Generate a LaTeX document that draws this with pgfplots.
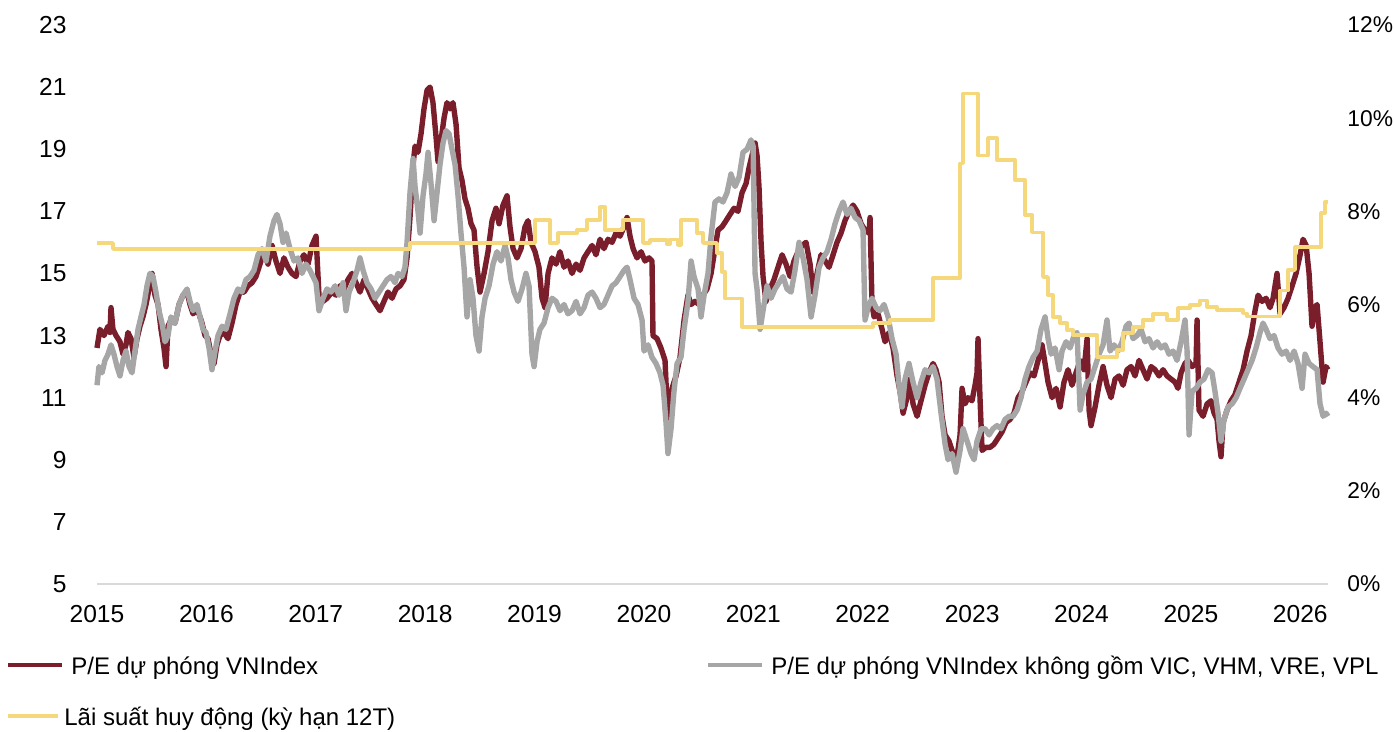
\documentclass[border=0pt]{standalone}
\usepackage{fontspec}
\setmainfont{Liberation Sans}
\usepackage{pgfplots}
\pgfplotsset{compat=1.18}

\definecolor{pered}{HTML}{7B1E2C}
\definecolor{pegray}{HTML}{A6A6A6}
\definecolor{rateyel}{HTML}{F5D87C}
\definecolor{axgray}{HTML}{D9D9D9}

\begin{document}
\begin{tikzpicture}[font=\fontsize{12}{15}\selectfont]
% P/E axis (left)
\begin{axis}[
    at={(0,0)}, anchor=south west,
    scale only axis, width=615.5pt, height=279.5pt,
    xmin=2015, xmax=2026.252, ymin=5, ymax=23,
    axis x line*=bottom, axis y line*=left,
    x axis line style={-, draw=axgray, line width=1pt},
    y axis line style={draw=none},
    major tick length=0pt, tick style={draw=none},
    xtick={2015,...,2026},
    xticklabels={2015,2016,2017,2018,2019,2020,2021,2022,2023,2024,2025,2026},
    ytick={5,7,...,23},
    yticklabels={5,7,9,11,13,15,17,19,21,23},
    tick label style={font=\fontsize{12.3}{15}\selectfont},
    xticklabel style={anchor=north, inner sep=0pt, yshift=-10.5pt},
    yticklabel style={anchor=east, inner sep=0pt, xshift=-15pt},
    clip=false,
]
\addplot[pered, line width=2.7pt, line join=round] coordinates {
(2015.000,12.6) (2015.027,13.2) (2015.064,13.0) (2015.101,13.3) (2015.119,13.1) (2015.128,13.9)
(2015.146,13.2) (2015.174,13.0) (2015.210,12.8) (2015.238,12.4) (2015.265,12.7) (2015.283,13.1)
(2015.311,12.9) (2015.338,12.3) (2015.366,12.9) (2015.393,13.3) (2015.420,13.6) (2015.448,14.0)
(2015.475,14.5) (2015.503,15.0) (2015.530,14.3) (2015.558,14.0) (2015.585,13.2) (2015.612,12.6)
(2015.631,12.0) (2015.649,13.3) (2015.676,13.5) (2015.713,13.4) (2015.750,14.0) (2015.786,14.3)
(2015.823,14.4) (2015.850,14.0) (2015.878,13.7) (2015.905,13.8) (2015.932,13.7) (2015.960,13.4)
(2015.987,13.0) (2016.015,12.9) (2016.042,12.4) (2016.070,12.1) (2016.097,12.7) (2016.124,13.0)
(2016.161,13.1) (2016.197,12.9) (2016.234,13.4) (2016.271,14.0) (2016.307,14.4) (2016.344,14.4)
(2016.380,14.6) (2016.417,14.7) (2016.453,14.9) (2016.490,15.3) (2016.527,15.7) (2016.563,15.3)
(2016.600,15.9) (2016.636,15.4) (2016.673,15.0) (2016.709,15.5) (2016.746,15.2) (2016.782,15.0)
(2016.819,14.9) (2016.856,15.4) (2016.892,15.6) (2016.929,15.3) (2016.965,15.9) (2017.002,16.2)
(2017.029,14.3) (2017.066,14.1) (2017.102,14.2) (2017.148,14.4) (2017.185,14.3) (2017.221,14.6)
(2017.258,14.5) (2017.294,14.8) (2017.331,15.0) (2017.368,14.7) (2017.404,14.4) (2017.441,14.8)
(2017.477,14.5) (2017.514,14.2) (2017.550,14.0) (2017.587,13.8) (2017.623,14.1) (2017.660,14.4)
(2017.697,14.2) (2017.733,14.5) (2017.770,14.6) (2017.806,14.8) (2017.834,15.5) (2017.861,16.8)
(2017.889,18.5) (2017.907,19.1) (2017.934,18.9) (2017.962,19.5) (2017.989,20.3) (2018.017,20.9)
(2018.044,21.0) (2018.071,20.5) (2018.099,19.4) (2018.117,18.6) (2018.145,19.3) (2018.172,20.0)
(2018.199,20.5) (2018.227,20.3) (2018.254,20.5) (2018.282,19.8) (2018.309,18.4) (2018.336,18.0)
(2018.364,17.4) (2018.391,17.1) (2018.419,16.6) (2018.446,16.4) (2018.474,15.2) (2018.501,14.4)
(2018.538,15.0) (2018.574,15.7) (2018.611,16.7) (2018.647,17.1) (2018.675,16.6) (2018.711,17.2)
(2018.748,17.5) (2018.775,16.5) (2018.803,15.8) (2018.839,15.5) (2018.876,15.8) (2018.912,16.5)
(2018.940,16.7) (2018.967,16.0) (2019.004,15.7) (2019.040,15.2) (2019.068,14.2) (2019.095,13.9)
(2019.123,15.0) (2019.159,15.5) (2019.196,15.3) (2019.232,15.7) (2019.269,15.2) (2019.305,15.4)
(2019.342,15.0) (2019.379,15.3) (2019.415,15.1) (2019.452,15.5) (2019.488,15.7) (2019.525,15.9)
(2019.561,15.6) (2019.598,16.1) (2019.634,15.8) (2019.671,16.1) (2019.708,16.0) (2019.744,16.3)
(2019.781,16.2) (2019.817,16.5) (2019.845,16.8) (2019.872,16.2) (2019.900,15.8) (2019.936,15.5)
(2019.973,15.7) (2020.009,15.4) (2020.046,15.5) (2020.073,15.4) (2020.082,13.0) (2020.119,12.9)
(2020.155,12.6) (2020.192,12.2) (2020.210,10.8) (2020.229,10.2) (2020.256,11.3) (2020.293,11.7)
(2020.329,12.3) (2020.366,13.5) (2020.402,14.3) (2020.430,14.0) (2020.466,14.1) (2020.503,14.0)
(2020.539,14.3) (2020.576,14.5) (2020.613,15.0) (2020.649,15.8) (2020.677,16.4) (2020.713,16.5)
(2020.750,16.7) (2020.786,16.9) (2020.823,17.1) (2020.859,17.0) (2020.896,17.6) (2020.933,17.9)
(2020.960,18.4) (2020.987,18.8) (2021.015,19.2) (2021.033,18.8) (2021.051,17.8) (2021.070,16.0)
(2021.088,14.9) (2021.115,14.1) (2021.152,14.5) (2021.188,14.8) (2021.225,15.2) (2021.262,15.6)
(2021.298,15.3) (2021.335,14.9) (2021.371,15.4) (2021.408,15.7) (2021.444,15.9) (2021.481,16.0)
(2021.518,15.3) (2021.545,14.4) (2021.582,15.0) (2021.618,15.6) (2021.655,15.4) (2021.691,15.2)
(2021.728,15.6) (2021.764,16.0) (2021.801,16.3) (2021.837,16.7) (2021.874,17.0) (2021.911,17.2)
(2021.947,17.0) (2021.984,16.6) (2022.020,16.4) (2022.057,16.3) (2022.066,16.8) (2022.084,14.0)
(2022.103,13.6) (2022.139,13.7) (2022.176,13.2) (2022.203,12.8) (2022.240,13.1) (2022.276,12.6)
(2022.313,11.7) (2022.340,11.2) (2022.368,10.5) (2022.404,11.0) (2022.432,11.6) (2022.459,10.8)
(2022.496,10.4) (2022.532,10.9) (2022.569,11.4) (2022.605,11.8) (2022.642,12.1) (2022.669,11.9)
(2022.697,11.5) (2022.724,10.4) (2022.752,9.8) (2022.788,9.6) (2022.825,9.2) (2022.861,9.1)
(2022.889,9.8) (2022.907,11.3) (2022.934,10.8) (2022.962,11.0) (2022.998,10.9) (2023.026,11.4)
(2023.044,11.8) (2023.053,12.9) (2023.071,11.0) (2023.090,9.3) (2023.126,9.4) (2023.163,9.4)
(2023.199,9.5) (2023.236,9.7) (2023.273,9.9) (2023.309,10.2) (2023.346,10.3) (2023.382,10.5)
(2023.419,11.0) (2023.455,11.2) (2023.492,11.5) (2023.529,11.8) (2023.565,11.7) (2023.602,12.2)
(2023.638,12.7) (2023.666,12.1) (2023.693,11.5) (2023.730,11.0) (2023.766,11.3) (2023.803,10.7)
(2023.839,11.5) (2023.876,11.9) (2023.912,11.4) (2023.949,11.8) (2023.986,12.2) (2024.022,11.9)
(2024.050,12.9) (2024.068,10.6) (2024.086,10.1) (2024.123,10.7) (2024.159,11.4) (2024.196,12.0)
(2024.232,11.4) (2024.269,11.0) (2024.306,11.6) (2024.342,11.7) (2024.379,11.4) (2024.415,11.9)
(2024.452,12.0) (2024.488,11.7) (2024.525,12.2) (2024.561,11.9) (2024.598,11.6) (2024.635,12.0)
(2024.671,11.9) (2024.708,11.7) (2024.744,11.9) (2024.781,11.7) (2024.817,11.6) (2024.854,11.5)
(2024.881,11.3) (2024.909,11.8) (2024.945,12.1) (2024.973,12.2) (2025.009,12.0) (2025.046,12.1)
(2025.055,13.5) (2025.073,10.6) (2025.110,10.4) (2025.147,10.8) (2025.183,10.9) (2025.211,10.5)
(2025.238,10.3) (2025.256,9.6) (2025.274,9.1) (2025.293,10.2) (2025.329,10.6) (2025.366,10.9)
(2025.402,11.1) (2025.439,11.5) (2025.476,11.9) (2025.512,12.5) (2025.549,13.0) (2025.585,13.8)
(2025.613,14.3) (2025.649,14.1) (2025.686,14.2) (2025.722,13.9) (2025.750,14.2) (2025.786,15.0)
(2025.814,13.7) (2025.850,13.9) (2025.887,14.2) (2025.924,14.6) (2025.960,15.0) (2025.997,15.6)
(2026.024,16.1) (2026.052,15.9) (2026.079,15.0) (2026.106,13.3) (2026.134,13.9) (2026.152,14.0)
(2026.179,12.8) (2026.207,11.5) (2026.234,12.0) (2026.252,11.9)
};
\addplot[pegray, line width=2.7pt, line join=round] coordinates {
(2015.000,11.4) (2015.018,12.0) (2015.046,11.8) (2015.073,12.2) (2015.101,12.4) (2015.128,12.7)
(2015.155,12.4) (2015.183,12.0) (2015.210,11.7) (2015.238,12.2) (2015.265,12.5) (2015.293,12.0)
(2015.320,11.8) (2015.347,12.5) (2015.375,13.2) (2015.402,13.6) (2015.430,14.0) (2015.457,14.6)
(2015.484,15.0) (2015.512,14.9) (2015.539,14.4) (2015.567,13.8) (2015.594,13.4) (2015.622,12.8)
(2015.649,13.0) (2015.676,13.6) (2015.713,13.4) (2015.750,14.0) (2015.786,14.3) (2015.823,14.5)
(2015.850,14.1) (2015.878,13.8) (2015.914,14.0) (2015.942,13.6) (2015.969,13.2) (2015.996,13.1)
(2016.024,12.6) (2016.051,11.9) (2016.079,12.5) (2016.106,13.0) (2016.143,13.3) (2016.179,13.2)
(2016.216,13.7) (2016.252,14.2) (2016.289,14.5) (2016.325,14.4) (2016.362,14.8) (2016.399,14.9)
(2016.435,15.1) (2016.472,15.6) (2016.508,15.8) (2016.545,15.4) (2016.581,16.2) (2016.618,16.7)
(2016.645,16.9) (2016.673,16.6) (2016.700,16.0) (2016.728,16.3) (2016.764,15.8) (2016.801,15.4)
(2016.837,15.5) (2016.874,15.0) (2016.910,15.3) (2016.947,15.1) (2016.974,14.9) (2017.002,14.7)
(2017.029,13.8) (2017.066,14.2) (2017.102,14.5) (2017.139,14.4) (2017.176,14.6) (2017.212,14.3)
(2017.249,14.7) (2017.276,13.8) (2017.304,14.4) (2017.340,14.7) (2017.377,15.1) (2017.404,15.5)
(2017.432,15.1) (2017.468,14.7) (2017.505,14.5) (2017.541,14.2) (2017.578,14.4) (2017.614,14.6)
(2017.651,14.8) (2017.687,14.9) (2017.724,14.7) (2017.751,15.0) (2017.788,14.9) (2017.815,15.2)
(2017.834,16.0) (2017.861,17.6) (2017.889,18.7) (2017.907,17.8) (2017.934,17.0) (2017.953,16.3)
(2017.980,17.5) (2018.007,18.2) (2018.026,18.9) (2018.053,17.9) (2018.081,16.7) (2018.108,17.6)
(2018.135,18.5) (2018.163,19.2) (2018.190,19.6) (2018.218,19.5) (2018.245,19.0) (2018.273,18.5)
(2018.300,17.5) (2018.327,16.3) (2018.355,15.2) (2018.382,13.6) (2018.410,14.8) (2018.437,14.2)
(2018.464,13.0) (2018.492,12.5) (2018.519,13.6) (2018.547,14.2) (2018.583,14.6) (2018.620,15.3)
(2018.656,15.7) (2018.693,15.4) (2018.730,15.9) (2018.757,15.5) (2018.784,14.8) (2018.812,14.4)
(2018.848,14.1) (2018.885,14.5) (2018.921,15.0) (2018.949,14.6) (2018.976,12.4) (2018.995,12.0)
(2019.022,12.8) (2019.049,13.2) (2019.086,13.4) (2019.123,13.9) (2019.159,14.2) (2019.196,14.1)
(2019.232,13.8) (2019.269,14.0) (2019.305,13.7) (2019.342,13.8) (2019.379,14.1) (2019.415,13.7)
(2019.452,13.9) (2019.488,14.3) (2019.525,14.4) (2019.561,14.2) (2019.598,13.9) (2019.634,14.0)
(2019.671,14.3) (2019.708,14.6) (2019.744,14.7) (2019.781,14.9) (2019.817,15.1) (2019.845,15.2)
(2019.872,14.8) (2019.909,14.2) (2019.945,14.0) (2019.982,13.5) (2020.000,12.5) (2020.037,12.7)
(2020.073,12.3) (2020.110,12.1) (2020.146,11.8) (2020.174,11.4) (2020.201,10.2) (2020.219,9.2)
(2020.247,10.0) (2020.274,11.2) (2020.302,12.1) (2020.338,12.3) (2020.366,13.2) (2020.402,14.1)
(2020.430,15.4) (2020.457,14.9) (2020.494,14.5) (2020.521,13.6) (2020.549,14.3) (2020.585,15.0)
(2020.613,16.2) (2020.649,17.3) (2020.686,17.4) (2020.722,17.3) (2020.759,17.6) (2020.795,18.2)
(2020.832,17.8) (2020.869,18.1) (2020.905,18.9) (2020.942,19.0) (2020.978,19.3) (2020.997,19.1)
(2021.015,15.0) (2021.033,14.5) (2021.061,13.2) (2021.088,13.8) (2021.124,14.6) (2021.161,14.2)
(2021.198,14.5) (2021.234,14.7) (2021.271,14.9) (2021.307,14.5) (2021.344,14.4) (2021.380,15.1)
(2021.417,16.0) (2021.454,15.5) (2021.490,14.8) (2021.527,13.6) (2021.563,14.3) (2021.600,15.2)
(2021.636,15.5) (2021.673,15.7) (2021.710,16.1) (2021.746,16.6) (2021.783,17.0) (2021.819,17.3)
(2021.856,16.9) (2021.892,17.1) (2021.929,16.8) (2021.966,16.7) (2022.002,16.4) (2022.020,13.5)
(2022.048,13.9) (2022.084,14.2) (2022.121,13.9) (2022.157,13.8) (2022.194,14.0) (2022.231,13.6)
(2022.267,12.9) (2022.304,12.4) (2022.331,11.4) (2022.359,10.7) (2022.386,11.6) (2022.422,12.1)
(2022.459,11.5) (2022.496,11.0) (2022.532,11.5) (2022.569,11.9) (2022.605,11.8) (2022.642,12.0)
(2022.678,11.6) (2022.715,10.5) (2022.752,9.5) (2022.779,9.0) (2022.816,9.2) (2022.852,8.6)
(2022.889,9.3) (2022.916,10.0) (2022.953,9.6) (2022.989,9.2) (2023.017,9.0) (2023.044,9.6)
(2023.081,10.0) (2023.117,10.0) (2023.154,9.8) (2023.190,10.0) (2023.227,10.1) (2023.263,10.0)
(2023.300,10.3) (2023.337,10.4) (2023.373,10.4) (2023.410,10.6) (2023.446,11.0) (2023.483,11.6)
(2023.519,12.0) (2023.556,12.3) (2023.593,12.5) (2023.629,13.2) (2023.666,13.6) (2023.693,12.9)
(2023.721,12.4) (2023.757,12.6) (2023.794,11.9) (2023.821,12.5) (2023.858,12.8) (2023.894,12.6)
(2023.931,13.0) (2023.958,13.1) (2023.986,10.6) (2024.013,11.1) (2024.050,11.5) (2024.086,11.6)
(2024.123,12.0) (2024.159,12.4) (2024.196,12.7) (2024.232,13.5) (2024.260,12.5) (2024.296,12.7)
(2024.333,12.5) (2024.370,12.8) (2024.406,13.3) (2024.434,13.4) (2024.470,12.9) (2024.507,13.0)
(2024.543,13.2) (2024.580,12.8) (2024.616,12.9) (2024.653,12.6) (2024.690,12.8) (2024.726,12.6)
(2024.763,12.7) (2024.799,12.4) (2024.836,12.5) (2024.872,12.2) (2024.909,12.8) (2024.945,13.5)
(2024.964,12.5) (2024.982,9.8) (2025.009,11.2) (2025.046,11.3) (2025.082,11.5) (2025.119,11.6)
(2025.156,11.9) (2025.192,11.8) (2025.219,11.2) (2025.247,10.5) (2025.274,9.6) (2025.302,10.3)
(2025.338,10.7) (2025.375,10.8) (2025.412,11.0) (2025.448,11.3) (2025.485,11.6) (2025.521,11.9)
(2025.558,12.2) (2025.594,12.6) (2025.631,13.1) (2025.658,13.4) (2025.686,13.2) (2025.722,12.9)
(2025.759,13.0) (2025.795,12.6) (2025.832,12.4) (2025.869,12.5) (2025.905,12.2) (2025.942,12.5)
(2025.978,12.1) (2026.015,11.3) (2026.042,12.4) (2026.079,12.1) (2026.115,12.0) (2026.152,11.9)
(2026.179,10.8) (2026.207,10.4) (2026.234,10.5) (2026.252,10.4)
};
\end{axis}
% deposit rate axis (right)
\begin{axis}[
    at={(0,0)}, anchor=south west,
    scale only axis, width=615.5pt, height=279.5pt,
    xmin=2015, xmax=2026.252, ymin=0, ymax=12,
    axis x line=none, axis y line*=right,
    y axis line style={draw=none},
    major tick length=0pt, tick style={draw=none},
    ytick={0,2,...,12},
    yticklabels={0\%,2\%,4\%,6\%,8\%,10\%,12\%},
    tick label style={font=\fontsize{11.4}{14}\selectfont},
    yticklabel style={anchor=west, inner sep=0pt, xshift=9.5pt},
    clip=false,
]
\addplot[rateyel, line width=1.75pt, const plot mark left, line join=round] coordinates {
(2015.000,7.32) (2015.146,7.19) (2017.861,7.32) (2019.004,7.81) (2019.141,7.32) (2019.214,7.53)
(2019.388,7.60) (2019.479,7.81) (2019.598,8.09) (2019.644,7.60) (2019.808,7.81) (2019.991,7.32)
(2020.055,7.38) (2020.210,7.30) (2020.238,7.40) (2020.311,7.27) (2020.338,7.81) (2020.485,7.53)
(2020.539,7.32) (2020.667,7.10) (2020.713,6.70) (2020.741,6.13) (2020.896,5.52) (2022.093,5.60)
(2022.249,5.67) (2022.642,6.57) (2022.889,9.03) (2022.916,10.53) (2023.053,9.20) (2023.145,9.57)
(2023.227,9.10) (2023.391,8.67) (2023.483,7.92) (2023.547,7.55) (2023.647,6.59) (2023.693,6.20)
(2023.739,5.73) (2023.803,5.60) (2023.867,5.45) (2023.922,5.34) (2024.141,4.87) (2024.324,5.02)
(2024.379,5.39) (2024.470,5.52) (2024.561,5.67) (2024.653,5.80) (2024.781,5.67) (2024.881,5.92)
(2024.991,5.99) (2025.082,6.09) (2025.147,5.95) (2025.238,5.88) (2025.476,5.81) (2025.512,5.74)
(2025.814,6.30) (2025.887,6.74) (2025.951,7.23) (2026.188,7.96) (2026.225,8.20) (2026.252,8.20)
};
\end{axis}
% legend
\draw[pered, line width=2pt] (-44.5pt,-40.5pt) -- (-17.5pt,-40.5pt);
\node[anchor=base west, inner sep=0pt] at (-13pt,-45.5pt) {P/E dự phóng VNIndex};
\draw[pegray, line width=2pt] (305.5pt,-40.5pt) -- (332.5pt,-40.5pt);
\node[anchor=base west, inner sep=0pt] at (337pt,-45.5pt) {P/E dự phóng VNIndex không gồm VIC, VHM, VRE, VPL};
\draw[rateyel, line width=2pt] (-44.5pt,-66pt) -- (-19.5pt,-66pt);
\node[anchor=base west, inner sep=0pt] at (-16.5pt,-71pt) {Lãi suất huy động (kỳ hạn 12T)};
\pgfresetboundingbox
\path[use as bounding box] (-48.5pt,-74pt) rectangle (648.5pt,292pt);
\end{tikzpicture}
\end{document}
